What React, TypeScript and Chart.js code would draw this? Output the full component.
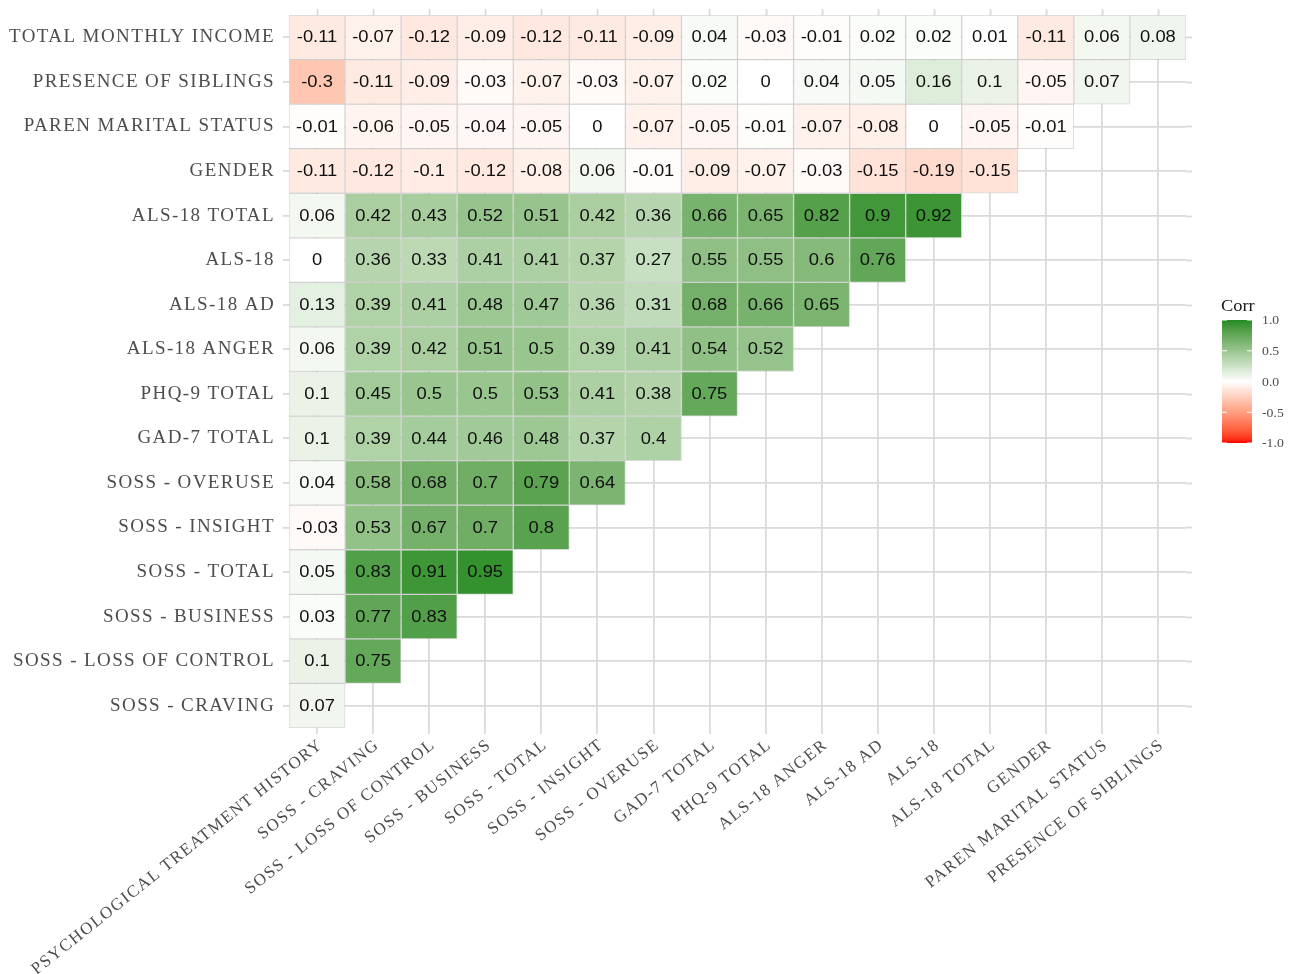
import React, { useEffect, useRef } from 'react';
import { Chart, registerables } from 'chart.js';

Chart.register(...registerables);

// Column (x) categories, left to right
const xLabels = [
  'PSYCHOLOGICAL TREATMENT HISTORY',
  'SOSS - CRAVING',
  'SOSS - LOSS OF CONTROL',
  'SOSS - BUSINESS',
  'SOSS - TOTAL',
  'SOSS - INSIGHT',
  'SOSS - OVERUSE',
  'GAD-7 TOTAL',
  'PHQ-9 TOTAL',
  'ALS-18 ANGER',
  'ALS-18 AD',
  'ALS-18',
  'ALS-18 TOTAL',
  'GENDER',
  'PAREN MARITAL STATUS',
  'PRESENCE OF SIBLINGS',
];

// Row (y) categories, bottom to top
const yLabels = [
  'SOSS - CRAVING',
  'SOSS - LOSS OF CONTROL',
  'SOSS - BUSINESS',
  'SOSS - TOTAL',
  'SOSS - INSIGHT',
  'SOSS - OVERUSE',
  'GAD-7 TOTAL',
  'PHQ-9 TOTAL',
  'ALS-18 ANGER',
  'ALS-18 AD',
  'ALS-18',
  'ALS-18 TOTAL',
  'GENDER',
  'PAREN MARITAL STATUS',
  'PRESENCE OF SIBLINGS',
  'TOTAL MONTHLY INCOME',
];

// Correlation values per row (left to right)
const sossCraving = [0.07];
const sossLossOfControl = [0.1, 0.75];
const sossBusiness = [0.03, 0.77, 0.83];
const sossTotal = [0.05, 0.83, 0.91, 0.95];
const sossInsight = [-0.03, 0.53, 0.67, 0.7, 0.8];
const sossOveruse = [0.04, 0.58, 0.68, 0.7, 0.79, 0.64];
const gad7Total = [0.1, 0.39, 0.44, 0.46, 0.48, 0.37, 0.4];
const phq9Total = [0.1, 0.45, 0.5, 0.5, 0.53, 0.41, 0.38, 0.75];
const als18Anger = [0.06, 0.39, 0.42, 0.51, 0.5, 0.39, 0.41, 0.54, 0.52];
const als18Ad = [0.13, 0.39, 0.41, 0.48, 0.47, 0.36, 0.31, 0.68, 0.66, 0.65];
const als18 = [0, 0.36, 0.33, 0.41, 0.41, 0.37, 0.27, 0.55, 0.55, 0.6, 0.76];
const als18Total = [0.06, 0.42, 0.43, 0.52, 0.51, 0.42, 0.36, 0.66, 0.65, 0.82, 0.9, 0.92];
const gender = [-0.11, -0.12, -0.1, -0.12, -0.08, 0.06, -0.01, -0.09, -0.07, -0.03, -0.15, -0.19, -0.15];
const parenMaritalStatus = [-0.01, -0.06, -0.05, -0.04, -0.05, 0, -0.07, -0.05, -0.01, -0.07, -0.08, 0, -0.05, -0.01];
const presenceOfSiblings = [-0.3, -0.11, -0.09, -0.03, -0.07, -0.03, -0.07, 0.02, 0, 0.04, 0.05, 0.16, 0.1, -0.05, 0.07];
const totalMonthlyIncome = [-0.11, -0.07, -0.12, -0.09, -0.12, -0.11, -0.09, 0.04, -0.03, -0.01, 0.02, 0.02, 0.01, -0.11, 0.06, 0.08];

const rowValues = [
  sossCraving, sossLossOfControl, sossBusiness, sossTotal, sossInsight, sossOveruse,
  gad7Total, phq9Total, als18Anger, als18Ad, als18, als18Total, gender,
  parenMaritalStatus, presenceOfSiblings, totalMonthlyIncome,
];

const legendBreaks = [1, 0.5, 0, -0.5, -1];
const legendLabels = ['1.0', '0.5', '0.0', '-0.5', '-1.0'];

// ---- colour scale (gradient2 in Lab space: red - white - forestgreen) ----
const LOW = [255, 0, 0];
const MID = [255, 255, 255];
const HIGH = [34, 139, 34];

function toLab(rgb: number[]) {
  const lin = (c: number) => {
    c /= 255;
    return c <= 0.04045 ? c / 12.92 : Math.pow((c + 0.055) / 1.055, 2.4);
  };
  const R = lin(rgb[0]), G = lin(rgb[1]), B = lin(rgb[2]);
  const X = (R * 0.4124564 + G * 0.3575761 + B * 0.1804375) / 0.95047;
  const Y = R * 0.2126729 + G * 0.7151522 + B * 0.072175;
  const Z = (R * 0.0193339 + G * 0.119192 + B * 0.9503041) / 1.08883;
  const f = (t: number) => (t > 0.008856 ? Math.cbrt(t) : 7.787 * t + 16 / 116);
  const fx = f(X), fy = f(Y), fz = f(Z);
  return [116 * fy - 16, 500 * (fx - fy), 200 * (fy - fz)];
}

function fromLab(lab: number[]) {
  const fy = (lab[0] + 16) / 116;
  const fx = fy + lab[1] / 500;
  const fz = fy - lab[2] / 200;
  const finv = (t: number) => (t * t * t > 0.008856 ? t * t * t : (t - 16 / 116) / 7.787);
  const X = finv(fx) * 0.95047, Y = finv(fy), Z = finv(fz) * 1.08883;
  const R = X * 3.2404542 - Y * 1.5371385 - Z * 0.4985314;
  const G = -X * 0.969266 + Y * 1.8760108 + Z * 0.041556;
  const B = X * 0.0556434 - Y * 0.2040259 + Z * 1.0572252;
  const gam = (c: number) => {
    const v = c <= 0.0031308 ? 12.92 * c : 1.055 * Math.pow(c, 1 / 2.4) - 0.055;
    return Math.round(Math.max(0, Math.min(1, v)) * 255);
  };
  return `rgb(${gam(R)},${gam(G)},${gam(B)})`;
}

const labLow = toLab(LOW), labMid = toLab(MID), labHigh = toLab(HIGH);

function colorFor(v: number) {
  const t = Math.max(-1, Math.min(1, v));
  const end = t >= 0 ? labHigh : labLow;
  const a = Math.abs(t);
  return fromLab([0, 1, 2].map((k) => labMid[k] + (end[k] - labMid[k]) * a));
}

const GRID = '#dadada';
const AXIS_TEXT = '#4d4d4d';

const heatPlugin = {
  id: 'heatPlugin',
  beforeDraw(chart: any) {
    (chart.ctx as any).letterSpacing = '1.4px';
  },
  beforeDatasetsDraw(chart: any) {
    const ctx = chart.ctx;
    (ctx as any).letterSpacing = '0px';
    const a = chart.chartArea;
    const xs = chart.scales.x, ys = chart.scales.y;
    ctx.save();
    ctx.strokeStyle = GRID;
    ctx.lineWidth = 1.8;
    xs.ticks.forEach((_: any, i: number) => {
      const px = Math.round(xs.getPixelForTick(i)) + 0.5;
      ctx.beginPath();
      ctx.moveTo(px, a.top - 6);
      ctx.lineTo(px, a.top);
      ctx.stroke();
    });
    ys.ticks.forEach((_: any, i: number) => {
      const py = Math.round(ys.getPixelForTick(i)) + 0.5;
      ctx.beginPath();
      ctx.moveTo(a.right, py);
      ctx.lineTo(a.right + 6, py);
      ctx.stroke();
    });
    ctx.restore();
  },
  afterDatasetsDraw(chart: any) {
    const ctx = chart.ctx;
    const meta = chart.getDatasetMeta(0);
    const data = chart.data.datasets[0].data;
    ctx.save();
    ctx.fillStyle = '#111111';
    ctx.font = '17px "Liberation Sans", Arial, sans-serif';
    ctx.textAlign = 'center';
    ctx.textBaseline = 'middle';
    meta.data.forEach((bar: any, i: number) => {
      const c = bar.getCenterPoint();
      ctx.save();
      ctx.translate(c.x, c.y + 0.5);
      ctx.scale(1.08, 1);
      ctx.fillText(String(data[i].v), 0, 0);
      ctx.restore();
    });
    ctx.restore();
  },
  afterDraw(chart: any) {
    const ctx = chart.ctx;
    const left = 1222, top = 320, w = 30, h = 123;
    ctx.save();
    // title
    ctx.fillStyle = '#1a1a1a';
    ctx.font = '16px "Liberation Serif", "Times New Roman", serif';
    ctx.textAlign = 'left';
    ctx.textBaseline = 'alphabetic';
    ctx.save();
    ctx.translate(1221, 311);
    ctx.scale(1.15, 1);
    ctx.fillText('Corr', 0, 0);
    ctx.restore();
    // gradient bar
    const g = ctx.createLinearGradient(0, top + h, 0, top);
    for (let k = 0; k <= 40; k++) {
      const v = -1 + (2 * k) / 40;
      g.addColorStop(k / 40, colorFor(v));
    }
    ctx.fillStyle = g;
    ctx.fillRect(left, top, w, h);
    // ticks + labels
    ctx.font = '12.5px "Liberation Serif", "Times New Roman", serif';
    ctx.textBaseline = 'middle';
    legendBreaks.forEach((b, i) => {
      const y = top + ((1 - b) / 2) * h;
      ctx.strokeStyle = '#ffffff';
      ctx.lineWidth = 1;
      ctx.beginPath();
      ctx.moveTo(left, y);
      ctx.lineTo(left + 5, y);
      ctx.moveTo(left + w - 5, y);
      ctx.lineTo(left + w, y);
      ctx.stroke();
      ctx.fillStyle = AXIS_TEXT;
      ctx.save();
      ctx.translate(1262, y + 1);
      ctx.scale(1.1, 1);
      ctx.fillText(legendLabels[i], 0, 0);
      ctx.restore();
    });
    ctx.restore();
  },
};

export default function App() {
  const ref = useRef<HTMLCanvasElement | null>(null);

  useEffect(() => {
    if (!ref.current) return;
    const cells: any[] = [];
    const colors: string[] = [];
    rowValues.forEach((row, r) => {
      row.forEach((v, c) => {
        cells.push({ x: xLabels[c], y: [r, r + 1], v });
        colors.push(colorFor(v));
      });
    });

    const chart = new Chart(ref.current, {
      type: 'bar',
      data: {
        labels: xLabels,
        datasets: [
          {
            data: cells,
            backgroundColor: colors,
            borderColor: 'rgba(185,185,185,0.55)',
            borderWidth: 1,
            borderSkipped: false,
            barPercentage: 1,
            categoryPercentage: 1,
          } as any,
        ],
      },
      options: {
        responsive: false,
        animation: false,
        events: [],
        layout: { padding: { top: 15, right: 114, left: 0, bottom: 0 } },
        plugins: {
          legend: { display: false },
          tooltip: { enabled: false },
        },
        scales: {
          x: {
            type: 'category',
            offset: true,
            grid: { offset: false, color: GRID, lineWidth: 1.8, tickLength: 6, drawTicks: true },
            border: { display: false },
            ticks: {
              autoSkip: false,
              minRotation: 38.5,
              maxRotation: 38.5,
              padding: 1,
              labelOffset: 4,
              color: AXIS_TEXT,
              font: { family: '"Liberation Serif", "Times New Roman", serif', size: 17 },
            },
            afterFit: (s: any) => {
              s.height = 246;
            },
          },
          y: {
            type: 'linear',
            min: 0,
            max: 16,
            afterBuildTicks: (s: any) => {
              s.ticks = yLabels.map((_, i) => ({ value: i + 0.5 }));
            },
            grid: { color: GRID, lineWidth: 1.8, tickLength: 6, drawTicks: true },
            border: { display: false },
            ticks: {
              autoSkip: false,
              padding: 8,
              color: AXIS_TEXT,
              font: { family: '"Liberation Serif", "Times New Roman", serif', size: 19 },
              callback: (v: any) => yLabels[Math.floor(Number(v))],
            },
            afterFit: (s: any) => {
              s.width = 289;
              s.paddingTop = 0;
              s.paddingBottom = 0;
            },
          },
        },
      } as any,
      plugins: [heatPlugin],
    });

    return () => chart.destroy();
  }, []);

  return (
    <div style={{ position: 'fixed', left: 0, top: 0, width: 1300, height: 974, background: '#ffffff' }}>
      <canvas ref={ref} width={1300} height={974} style={{ display: 'block', width: 1300, height: 974 }} />
    </div>
  );
}
